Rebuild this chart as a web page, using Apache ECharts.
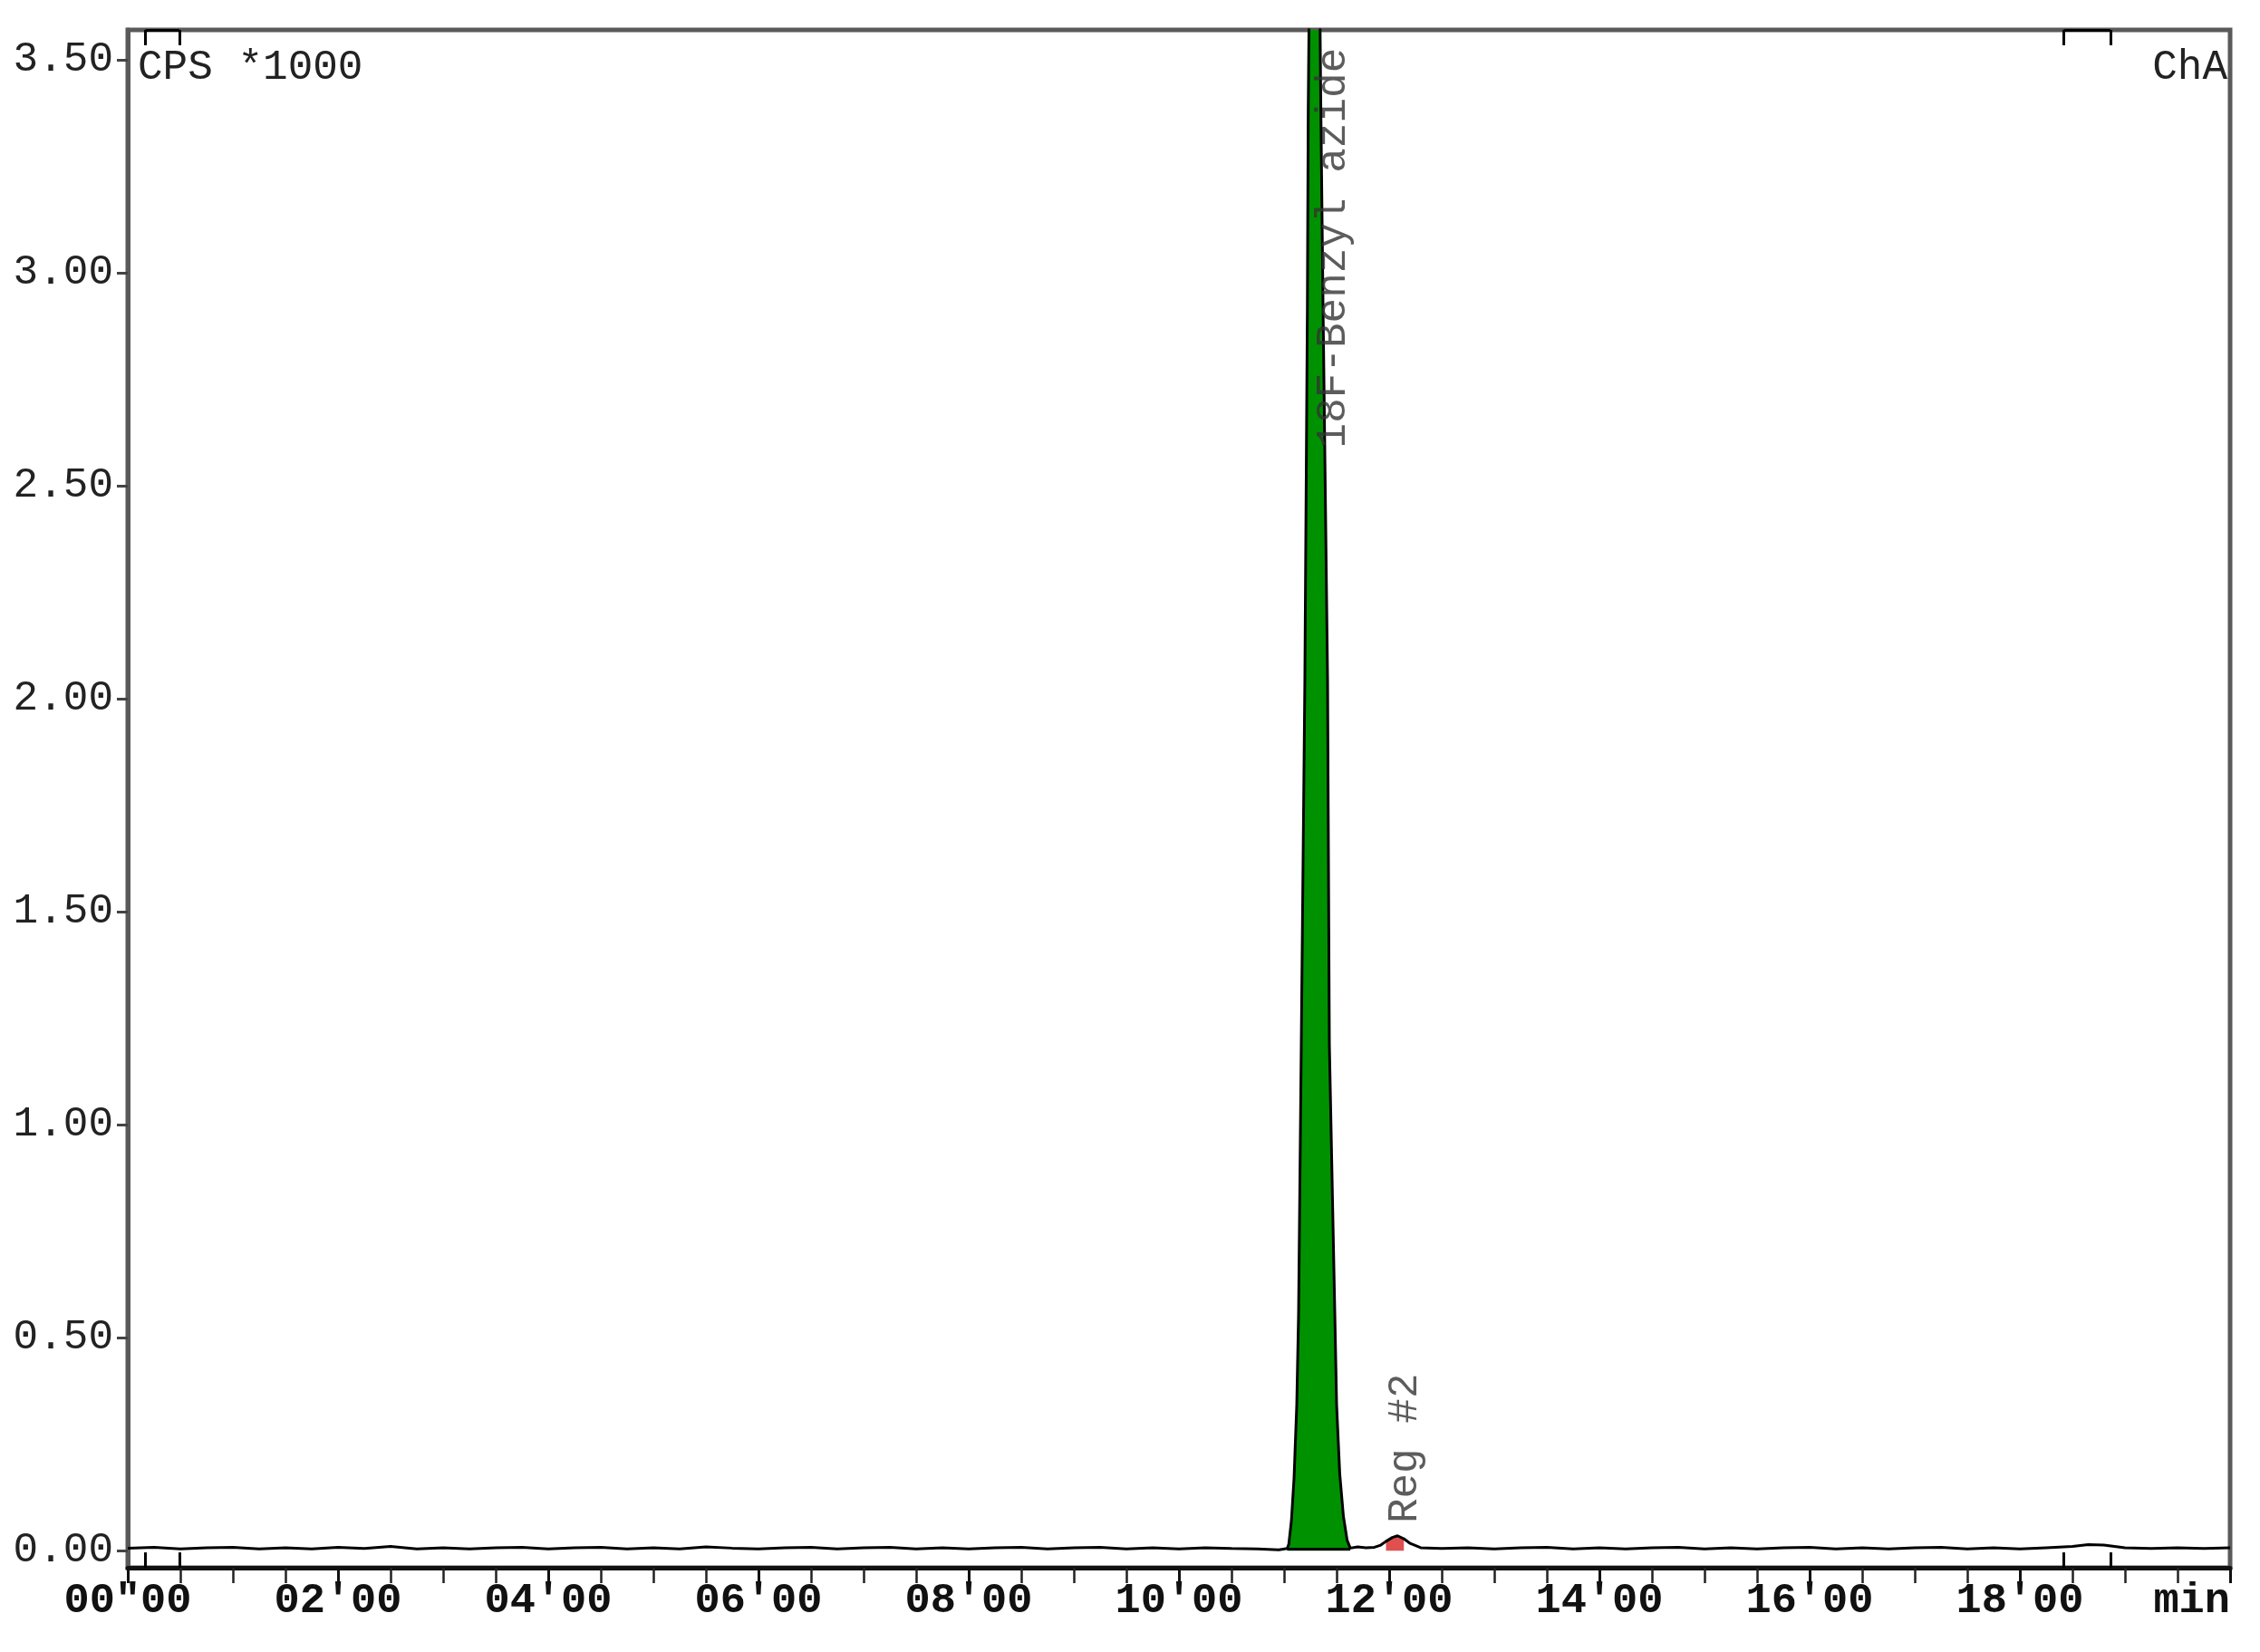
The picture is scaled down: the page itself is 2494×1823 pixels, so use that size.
<!DOCTYPE html>
<html>
<head>
<meta charset="utf-8">
<script src="https://cdn.jsdelivr.net/npm/echarts@6/dist/echarts.min.js"></script>
<style>
  html, body { margin: 0; padding: 0; background: #fff; }
  #chart { width: 2494px; height: 1823px; }
</style>
</head>
<body>
<div id="chart"></div>
<script>
// retention time (min) / signal (CPS *1000)
const baselineBefore = [
  [0, 0.006], [0.25, 0.008], [0.5, 0.004], [0.75, 0.007], [1.0, 0.008], [1.25, 0.004],
  [1.5, 0.007], [1.75, 0.004], [2.0, 0.008], [2.25, 0.005], [2.5, 0.010], [2.75, 0.004],
  [3.0, 0.007], [3.25, 0.004], [3.5, 0.007], [3.75, 0.008], [4.0, 0.004], [4.25, 0.007],
  [4.5, 0.008], [4.75, 0.004], [5.0, 0.007], [5.25, 0.004], [5.5, 0.009], [5.75, 0.006],
  [6.0, 0.004], [6.25, 0.007], [6.5, 0.008], [6.75, 0.004], [7.0, 0.007], [7.25, 0.008],
  [7.5, 0.004], [7.75, 0.007], [8.0, 0.004], [8.25, 0.007], [8.5, 0.008], [8.75, 0.004],
  [9.0, 0.007], [9.25, 0.008], [9.5, 0.004], [9.75, 0.007], [10.0, 0.004], [10.25, 0.007],
  [10.5, 0.005], [10.75, 0.004], [10.95, 0.002]
];
const mainPeak = [
  [11.03, 0.005], [11.045, 0.015], [11.07, 0.07], [11.095, 0.17], [11.121, 0.343],
  [11.138, 0.555], [11.164, 1.19], [11.198, 2.045], [11.222, 2.92], [11.23, 3.385],
  [11.29, 5.0], [11.35, 3.385], [11.371, 2.92], [11.414, 2.045], [11.431, 1.19],
  [11.483, 0.555], [11.50, 0.343], [11.53, 0.18], [11.565, 0.08], [11.60, 0.025],
  [11.63, 0.006]
];
const valley = [[11.7, 0.009], [11.78, 0.007], [11.86, 0.008], [11.92, 0.013]];
const minorPeak = [[11.97, 0.022], [12.03, 0.031], [12.08, 0.035], [12.14, 0.028], [12.2, 0.017], [12.3, 0.007]];
const baselineAfter = [
  [12.5, 0.005], [12.75, 0.007], [13.0, 0.004], [13.25, 0.007], [13.5, 0.008], [13.75, 0.004],
  [14.0, 0.007], [14.25, 0.004], [14.5, 0.007], [14.75, 0.008], [15.0, 0.004], [15.25, 0.007],
  [15.5, 0.004], [15.75, 0.007], [16.0, 0.008], [16.25, 0.004], [16.5, 0.007], [16.75, 0.004],
  [17.0, 0.007], [17.25, 0.008], [17.5, 0.004], [17.75, 0.007], [18.0, 0.004], [18.25, 0.007],
  [18.5, 0.010], [18.65, 0.014], [18.8, 0.013], [19.0, 0.007], [19.25, 0.005], [19.5, 0.007],
  [19.75, 0.005], [20.0, 0.007]
];
const trace = [].concat(baselineBefore, mainPeak, valley, minorPeak, baselineAfter);

const yTicks = [0, 0.5, 1.0, 1.5, 2.0, 2.5, 3.0, 3.5];
const xTickLabels = ['00"00', "02'00", "04'00", "06'00", "08'00", "10'00", "12'00", "14'00", "16'00", "18'00", 'min'];

const peakLabels = [
  { name: '18F-Benzyl azide', value: [11.47, 3.528], align: 'right' },
  { name: 'Reg #2', value: [12.15, 0.064], align: 'left' }
];
// integration event brackets: [start, end] in min
const eventBrackets = [[0.17, 0.49], [18.42, 18.86]];

const FONT = '"Liberation Mono", "DejaVu Sans Mono", monospace';
const Y_MIN = -0.04, Y_MAX = 3.57;

const bracketLines = [];
eventBrackets.forEach(([a, b]) => {
  bracketLines.push([{ coord: [a, Y_MAX] }, { coord: [b, Y_MAX] }]);
  bracketLines.push([{ coord: [a, Y_MAX] }, { coord: [a, Y_MAX - 0.036] }]);
  bracketLines.push([{ coord: [b, Y_MAX] }, { coord: [b, Y_MAX - 0.036] }]);
  bracketLines.push([{ coord: [a, Y_MIN] }, { coord: [a, Y_MIN + 0.036] }]);
  bracketLines.push([{ coord: [b, Y_MIN] }, { coord: [b, Y_MIN + 0.036] }]);
});

const chart = echarts.init(document.getElementById('chart'));
chart.setOption({
  animation: false,
  backgroundColor: '#fff',
  grid: { left: 141, right: 33, top: 33, bottom: 93, show: true, borderColor: '#5a5a5a', borderWidth: 5, backgroundColor: 'transparent' },
  xAxis: {
    type: 'value', min: 0, max: 20, interval: 2,
    axisLine: { show: true, onZero: false, lineStyle: { color: '#111', width: 5 } },
    axisTick: { show: true, length: 17, lineStyle: { color: '#111', width: 3 } },
    minorTick: { show: true, splitNumber: 4, length: 17, lineStyle: { color: '#222', width: 2.5 } },
    axisLabel: {
      margin: 14, fontFamily: FONT, fontSize: 47, fontWeight: 'bold', color: '#111',
      alignMaxLabel: 'right',
      formatter: v => xTickLabels[Math.round(v / 2)]
    },
    splitLine: { show: false }
  },
  yAxis: {
    type: 'value', min: Y_MIN, max: Y_MAX,
    axisLine: { show: true, onZero: false, lineStyle: { color: '#5a5a5a', width: 5 } },
    axisTick: { show: true, length: 12, customValues: yTicks, lineStyle: { color: '#444', width: 3 } },
    axisLabel: {
      margin: 16, fontFamily: FONT, fontSize: 46, color: '#222',
      customValues: yTicks,
      formatter: v => v.toFixed(2)
    },
    splitLine: { show: false }
  },
  graphic: [
    { type: 'text', left: 152, top: 52, style: { text: 'CPS *1000', font: '46px ' + FONT, fill: '#222' } },
    { type: 'text', right: 36, top: 52, style: { text: 'ChA', font: '46px ' + FONT, fill: '#222' } }
  ],
  series: [
    {
      name: 'peak fill', type: 'line', data: mainPeak, showSymbol: false, z: 2,
      lineStyle: { width: 0 }, areaStyle: { color: '#009100', opacity: 1 }
    },
    {
      name: 'reg fill', type: 'line', data: minorPeak.slice(0, 4), showSymbol: false, z: 2,
      lineStyle: { width: 0 }, areaStyle: { color: '#e05050', opacity: 1 }
    },
    {
      name: 'trace', type: 'line', data: trace, showSymbol: false, z: 3,
      lineStyle: { color: '#000', width: 3 },
      markLine: {
        silent: true, symbol: 'none', animation: false,
        lineStyle: { color: '#000', width: 3, type: 'solid' },
        label: { show: false },
        data: bracketLines.concat([
          [{ coord: [11.03, 0.004] }, { coord: [11.63, 0.004] }]
        ])
      }
    },
    {
      name: 'labels', type: 'scatter', symbolSize: 0, z: 4,
      data: peakLabels.map(p => ({
        value: p.value,
        label: {
          show: true, position: 'inside', rotate: 90, align: p.align, verticalAlign: 'middle',
          formatter: p.name, fontFamily: FONT, fontSize: 46, color: '#333'
        }
      }))
    }
  ]
});
</script>
</body>
</html>
